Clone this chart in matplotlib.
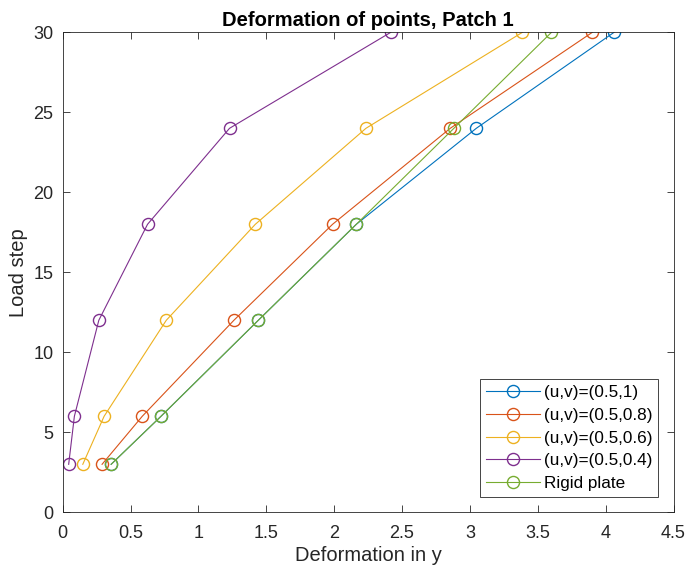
import matplotlib

matplotlib.use("Agg")

import matplotlib.pyplot as plt

plt.rcParams["font.family"] = ["Liberation Sans", "DejaVu Sans"]

load_steps = [3, 6, 12, 18, 24, 30]

defo_u05_v10 = [0.357, 0.724, 1.441, 2.163, 3.047, 4.062]
defo_u05_v08 = [0.290, 0.586, 1.261, 1.988, 2.855, 3.902]
defo_u05_v06 = [0.148, 0.305, 0.763, 1.419, 2.234, 3.387]
defo_u05_v04 = [0.044, 0.086, 0.266, 0.625, 1.229, 2.417]
defo_rigid = [0.357, 0.724, 1.441, 2.163, 2.882, 3.601]

series_labels = ["(u,v)=(0.5,1)", "(u,v)=(0.5,0.8)", "(u,v)=(0.5,0.6)", "(u,v)=(0.5,0.4)", "Rigid plate"]
series_colors = ["#0072BD", "#D95319", "#EDB120", "#7E2F8E", "#77AC30"]


def main() -> None:
    fig = plt.figure(figsize=(6.86, 5.74), dpi=100)
    ax = fig.add_axes([0.0914, 0.1075, 0.8904, 0.8362])

    all_series = [defo_u05_v10, defo_u05_v08, defo_u05_v06, defo_u05_v04, defo_rigid]
    for values, label, color in zip(all_series, series_labels, series_colors):
        ax.plot(values, load_steps, "-o", color=color, label=label, lw=0.8,
                markersize=8.7, markerfacecolor="none", markeredgewidth=1.0)

    ax.set_xlim(0, 4.5)
    ax.set_ylim(0, 30)
    ax.set_xticks([0, 0.5, 1, 1.5, 2, 2.5, 3, 3.5, 4, 4.5])
    ax.set_xticklabels(["0", "0.5", "1", "1.5", "2", "2.5", "3", "3.5", "4", "4.5"])
    ax.set_yticks([0, 5, 10, 15, 20, 25, 30])

    ax.tick_params(direction="in", top=True, right=True, length=5, width=0.6,
                   labelsize=13, colors="#262626")
    ax.tick_params(axis="x", pad=9)
    ax.tick_params(axis="y", pad=6.8)
    for spine in ax.spines.values():
        spine.set_color("#262626")
        spine.set_linewidth(0.6)

    ax.set_xlabel("Deformation in y", fontsize=14.5, color="#262626", labelpad=3)
    ax.set_ylabel("Load step", fontsize=14.5, color="#262626", labelpad=3.6)
    ax.set_title("Deformation of points, Patch 1", fontsize=14.5, fontweight="bold", pad=4.5)

    leg = ax.legend(loc="lower right", fontsize=12.3, fancybox=False, framealpha=1,
                    edgecolor="#262626", borderaxespad=0.9, handlelength=3.2,
                    handletextpad=0.2, labelspacing=0.45, borderpad=0.35)
    leg.get_frame().set_linewidth(0.6)

    fig.savefig("out.png", dpi=100)
    plt.close(fig)


if __name__ == "__main__":
    main()
